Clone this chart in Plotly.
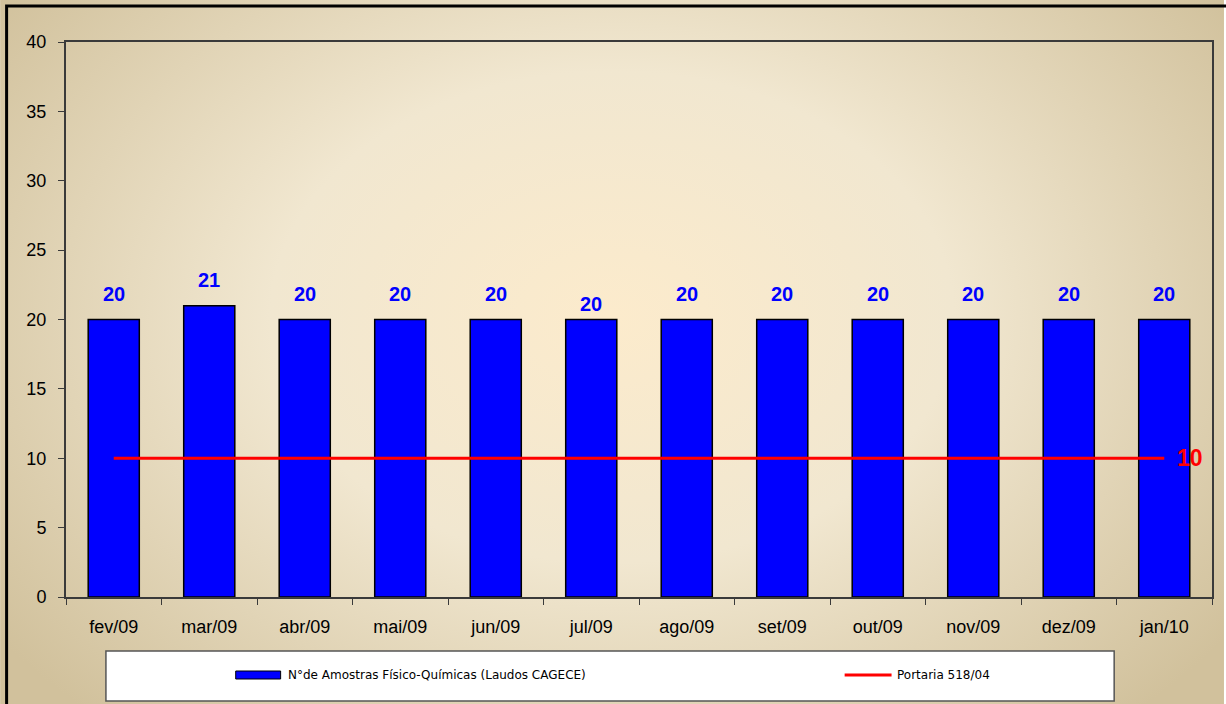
import plotly.graph_objects as go
import urllib.parse

months = ["fev/09", "mar/09", "abr/09", "mai/09", "jun/09", "jul/09",
          "ago/09", "set/09", "out/09", "nov/09", "dez/09", "jan/10"]
amostras = [20, 21, 20, 20, 20, 20, 20, 20, 20, 20, 20, 20]
portaria = [10] * 12
label_shift = [26, 26, 26, 26, 26, 16, 26, 26, 26, 26, 26, 26]

bar_name = "N°de Amostras Físico-Químicas (Laudos CAGECE)"
line_name = "Portaria 518/04"

W, H = 1226, 704
L, R, T, B = 66, 1214, 42, 597
PW, PH = R - L, B - T

def px(x):
    return (x - L) / PW

def py(y):
    return (B - y) / PH

svg = f"""<svg xmlns='http://www.w3.org/2000/svg' width='{W}' height='{H}' viewBox='0 0 {W} {H}' preserveAspectRatio='none'>
<defs><radialGradient id='g' cx='0.5' cy='0.45' r='0.62' gradientTransform='translate(0.5 0.45) scale(1 1.25) translate(-0.5 -0.45)'>
<stop offset='0' stop-color='#FCEBCC'/>
<stop offset='0.45' stop-color='#F1E7D0'/>
<stop offset='1' stop-color='#D1C19C'/>
</radialGradient></defs>
<rect width='{W}' height='{H}' fill='url(#g)'/></svg>"""
src = "data:image/svg+xml;charset=utf-8," + urllib.parse.quote(svg)

fig = go.Figure()
fig.add_trace(go.Bar(
    x=months, y=amostras, name=bar_name,
    marker=dict(color="#0000FF", line=dict(color="#000000", width=1.5)),
    showlegend=False,
))
fig.add_trace(go.Scatter(
    x=months, y=portaria, name=line_name, mode="lines",
    line=dict(color="#FF0000", width=3), showlegend=False,
))

annotations = []
for m, v, s in zip(months, amostras, label_shift):
    annotations.append(dict(
        x=m, y=v, text=str(v), showarrow=False, yshift=s,
        font=dict(family="Liberation Sans, Arial", size=20, color="#0000FF", weight="bold"),
    ))
annotations.append(dict(
    x=months[-1], y=portaria[-1], text=str(portaria[-1]), showarrow=False,
    xshift=26, yshift=0,
    font=dict(family="Liberation Sans, Arial", size=23, color="#FF0000", weight="bold"),
))
# legend texts
annotations.append(dict(
    xref="paper", yref="paper", x=px(286), y=py(675), xanchor="left", yanchor="middle",
    text=bar_name, showarrow=False,
    font=dict(family="DejaVu Sans", size=12, color="#000000"),
))
annotations.append(dict(
    xref="paper", yref="paper", x=px(896), y=py(675), xanchor="left", yanchor="middle",
    text=line_name, showarrow=False,
    font=dict(family="DejaVu Sans", size=12, color="#000000"),
))

shapes = [
    # outer border (only top/left visible)
    dict(type="rect", xref="paper", yref="paper", x0=px(6.5), y0=py(720), x1=px(1240), y1=py(6),
         line=dict(color="#000000", width=3), fillcolor="rgba(0,0,0,0)", layer="above"),
    # legend box
    dict(type="rect", xref="paper", yref="paper", x0=px(106), y0=py(701), x1=px(1116), y1=py(651),
         line=dict(color="#555555", width=1.5), fillcolor="#FFFFFF", layer="above"),
    # legend bar swatch
    dict(type="rect", xref="paper", yref="paper", x0=px(236), y0=py(679), x1=px(281), y1=py(671),
         line=dict(color="#000000", width=1), fillcolor="#0000FF", layer="above"),
    # legend line swatch
    dict(type="line", xref="paper", yref="paper", x0=px(846), y0=py(675), x1=px(893), y1=py(675),
         line=dict(color="#FF0000", width=3), layer="above"),
]

fig.update_layout(
    width=W, height=H,
    margin=dict(l=L, r=W - R, t=T, b=H - B, pad=0),
    paper_bgcolor="rgba(0,0,0,0)",
    plot_bgcolor="rgba(0,0,0,0)",
    bargap=0.465,
    font=dict(family="Liberation Sans, Arial", size=18, color="#000000"),
    images=[dict(source=src, xref="paper", yref="paper", x=px(0), y=py(0),
                 sizex=W / PW, sizey=H / PH, sizing="stretch",
                 xanchor="left", yanchor="top", layer="below")],
    shapes=shapes,
    annotations=annotations,
    showlegend=False,
)
fig.update_xaxes(
    type="category", range=[-0.5, 11.5],
    showline=True, linecolor="#3a3a3a", linewidth=2, mirror=True,
    ticks="outside", tickson="boundaries", ticklen=6, tickcolor="#3a3a3a",
    showgrid=False, zeroline=False,
    tickfont=dict(size=18), ticklabelstandoff=12,
)
fig.update_yaxes(
    range=[0, 40], dtick=5, tick0=0,
    showline=True, linecolor="#3a3a3a", linewidth=2, mirror=True,
    ticks="outside", ticklen=6, tickcolor="#3a3a3a",
    showgrid=False, zeroline=False,
    tickfont=dict(size=18), ticklabelstandoff=8,
)

fig.write_html(
    "out.html",
    config={"displayModeBar": False},
    post_script="document.body.style.margin='0';document.body.style.overflow='hidden';",
)
